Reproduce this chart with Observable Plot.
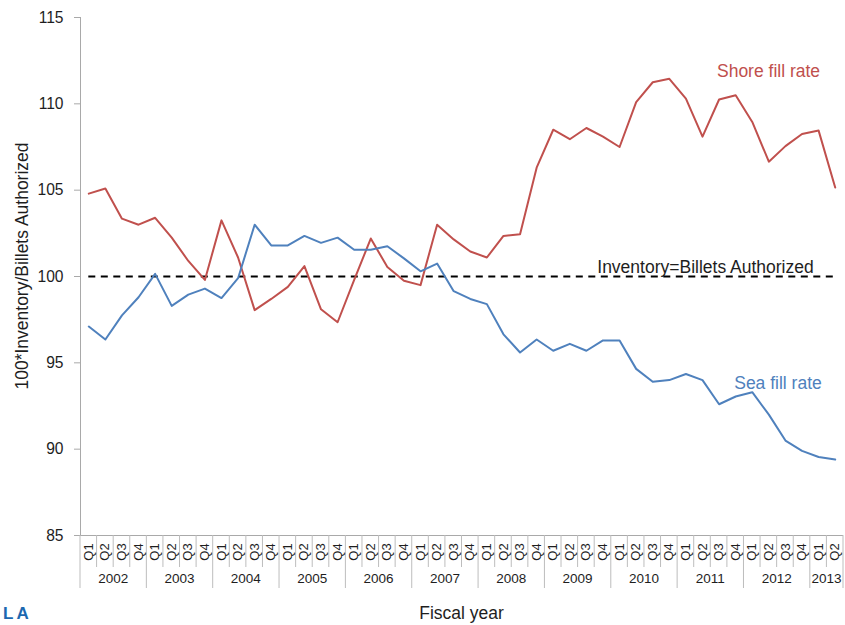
<!DOCTYPE html>
<html>
<head>
<meta charset="utf-8">
<script src="https://cdn.jsdelivr.net/npm/d3@7"></script>
<script src="https://cdn.jsdelivr.net/npm/@observablehq/plot@0.6"></script>
<style>
  body { margin: 0; background: #fff; }
  #chart { width: 845px; height: 625px; overflow: hidden; }
</style>
</head>
<body>
<div id="chart"></div>
<script>
// ---- data ----
const years = [2002, 2003, 2004, 2005, 2006, 2007, 2008, 2009, 2010, 2011, 2012, 2013];
const quarterLabels = ["Q1", "Q2", "Q3", "Q4"];
const shore = [
  104.8, 105.1, 103.35, 103.0, 103.4, 102.25, 100.9, 99.8,
  103.25, 101.1, 98.05, 98.7, 99.4, 100.6, 98.1, 97.35,
  99.8, 102.2, 100.55, 99.75, 99.5, 103.0, 102.15, 101.45,
  101.1, 102.35, 102.45, 106.3, 108.5, 107.95, 108.6, 108.1,
  107.5, 110.1, 111.25, 111.45, 110.3, 108.1, 110.25, 110.5,
  108.95, 106.65, 107.55, 108.25, 108.45, 105.15
];
const sea = [
  97.1, 96.35, 97.75, 98.8, 100.15, 98.3, 98.95, 99.3,
  98.75, 99.9, 103.0, 101.8, 101.8, 102.35, 101.95, 102.25,
  101.55, 101.55, 101.75, 101.05, 100.3, 100.75, 99.15, 98.7,
  98.4, 96.65, 95.6, 96.35, 95.7, 96.1, 95.7, 96.3,
  96.3, 94.65, 93.9, 94.0, 94.35, 94.0, 92.6, 93.05,
  93.3, 92.0, 90.5, 89.9, 89.55, 89.4
];
const referenceValue = 100;
const yTicks = [85, 90, 95, 100, 105, 110, 115];
const seriesNames = ["Shore fill rate", "Sea fill rate"];
const referenceLabel = "Inventory=Billets Authorized";
const yTitle = "100*Inventory/Billets Authorized";
const xTitle = "Fiscal year";
const logoText = "LA";

// ---- derived ----
const RED = "#c0504d", BLUE = "#4f81bd", GRID = "#a9a9a9", INK = "#1e1e1e";
const FONT = "'Liberation Sans', Arial, sans-serif";
const n = shore.length;
const periods = d3.range(n).map(i => ({i, year: years[Math.floor(i / 4)], q: quarterLabels[i % 4]}));

function categoryAxis(index, scales) {
  const x = scales.x, y = scales.y;
  const y0 = y(yTicks[0]);
  const g = d3.create("svg:g").attr("font-family", FONT);
  for (let k = 0; k <= n; k++) {
    const isYear = k % 4 === 0 || k === n;
    g.append("line")
      .attr("x1", x(k - 0.5)).attr("x2", x(k - 0.5))
      .attr("y1", y0).attr("y2", y0 + (isYear ? 53 : 32))
      .attr("stroke", "#bdbdbd");
  }
  for (const p of periods) {
    g.append("text")
      .attr("transform", `translate(${x(p.i)},${y0 + 17}) rotate(-90)`)
      .attr("text-anchor", "middle").attr("dy", "0.35em")
      .attr("font-size", 13).attr("fill", INK).text(p.q);
  }
  for (const yr of years) {
    const idx = periods.filter(p => p.year === yr).map(p => p.i);
    const cx = (x(d3.min(idx) - 0.5) + x(d3.max(idx) + 0.5)) / 2;
    g.append("text").attr("x", cx).attr("y", y0 + 43).attr("dy", "0.35em")
      .attr("text-anchor", "middle").attr("font-size", 13.5).attr("fill", INK).text(yr);
  }
  // axis titles
  const [xa, xb] = x.range();
  g.append("text").attr("x", (xa + xb) / 2).attr("y", 619)
    .attr("text-anchor", "middle").attr("font-size", 17.5).attr("fill", INK).text(xTitle);
  g.append("text").attr("transform", `translate(22,${(y(yTicks[0]) + y(yTicks[yTicks.length - 1])) / 2 - 10}) rotate(-90)`)
    .attr("text-anchor", "middle").attr("dy", "0.35em")
    .attr("font-size", 17.5).attr("fill", INK).text(yTitle);
  g.append("text").attr("x", 3).attr("y", 619)
    .attr("text-anchor", "start")
    .attr("font-size", 17).attr("font-weight", "bold").attr("letter-spacing", 3)
    .attr("fill", "#1c68b0").text(logoText);
  return g.node();
}

const chart = Plot.plot({
  width: 845,
  height: 625,
  marginLeft: 80,
  marginRight: 2,
  marginTop: 17,
  marginBottom: 90,
  style: {fontFamily: FONT, background: "#fff", overflow: "hidden"},
  x: {type: "linear", domain: [-0.5, n - 0.5], axis: null},
  y: {domain: [yTicks[0], yTicks[yTicks.length - 1]], axis: null},
  marks: [
    Plot.ruleX([-0.5], {stroke: GRID}),
    Plot.ruleY([yTicks[0]], {stroke: GRID}),
    Plot.axisY(yTicks, {tickSize: 6, tickPadding: 11, fontSize: 15.6, stroke: GRID, fill: INK, label: null}),
    Plot.ruleY([referenceValue], {x1: 0, x2: n - 1, stroke: "#000", strokeWidth: 2, strokeDasharray: "7,5.5"}),
    Plot.line(shore, {x: (d, i) => i, y: d => d, stroke: RED, strokeWidth: 2}),
    Plot.line(sea, {x: (d, i) => i, y: d => d, stroke: BLUE, strokeWidth: 2}),
    Plot.text([seriesNames[0]], {x: 40.98, y: 111.87, text: d => d, fill: RED, fontSize: 17.5, textAnchor: "middle"}),
    Plot.text([seriesNames[1]], {x: 41.55, y: 93.8, text: d => d, fill: BLUE, fontSize: 17.5, textAnchor: "middle"}),
    Plot.text([referenceLabel], {x: 37.18, y: 100.55, text: d => d, fill: INK, fontSize: 17.5, textAnchor: "middle"}),
    categoryAxis
  ]
});
document.getElementById("chart").appendChild(chart);
</script>
</body>
</html>
